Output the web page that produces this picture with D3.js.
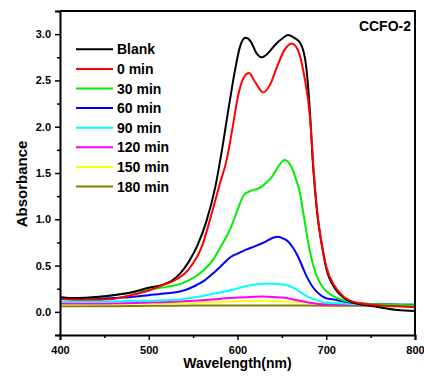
<!DOCTYPE html>
<html>
<head>
<meta charset="utf-8">
<script src="https://cdn.jsdelivr.net/npm/d3@7"></script>
<style>
    body { margin: 0; background: #fff; }
    svg { display: block; font-family: 'Liberation Sans', Arial, sans-serif; font-weight: bold; }
</style>
</head>
<body>
<svg width="424" height="379"></svg>
<script>
// UV-vis spectra, CCFO-2 degradation series
const seriesNames = ['Blank', '0 min', '30 min', '60 min', '90 min', '120 min', '150 min', '180 min'];
const seriesColors = ['#000000', '#ff0000', '#00ee00', '#0000ff', '#00ffff', '#ff00ff', '#ffff00', '#808000'];

// [wavelength (nm), absorbance] pairs
const blank = [
    [400, 0.15], [420, 0.15], [440, 0.16], [460, 0.18], [480, 0.21], [500, 0.26], [515, 0.29],
    [525, 0.33], [535, 0.41], [545, 0.54], [555, 0.72], [565, 0.98], [575, 1.35], [582, 1.72],
    [590, 2.2], [597, 2.6], [603, 2.87], [609, 2.96], [615, 2.92], [621, 2.8], [627, 2.75],
    [634, 2.79], [642, 2.88], [650, 2.95], [657, 2.99], [664, 2.96], [671, 2.9], [677, 2.68],
    [681, 2.25], [685, 1.6], [690, 1.05], [695, 0.72], [700, 0.47], [710, 0.25], [720, 0.15],
    [730, 0.1], [740, 0.08], [760, 0.05], [780, 0.02], [800, 0.01]
];
const min0 = [
    [400, 0.14], [430, 0.13], [460, 0.14], [480, 0.18], [500, 0.23], [516, 0.29], [531, 0.35],
    [545, 0.46], [560, 0.71], [572, 1.1], [580, 1.38], [588, 1.65], [595, 2.02], [601, 2.35],
    [607, 2.53], [613, 2.58], [620, 2.48], [629, 2.37], [637, 2.46], [645, 2.66], [653, 2.83],
    [661, 2.9], [668, 2.83], [675, 2.56], [682, 2.07], [686, 1.5], [690, 1.07], [695, 0.73],
    [700, 0.49], [710, 0.27], [720, 0.16], [730, 0.11], [740, 0.09], [760, 0.07], [780, 0.06],
    [800, 0.05]
];
const min30 = [
    [400, 0.14], [430, 0.15], [460, 0.18], [480, 0.21], [500, 0.24], [520, 0.27], [535, 0.3],
    [545, 0.34], [554, 0.39], [563, 0.46], [573, 0.57], [582, 0.72], [592, 0.9], [600, 1.1],
    [607, 1.26], [613, 1.3], [620, 1.32], [627, 1.35], [633, 1.4], [639, 1.46], [646, 1.57],
    [653, 1.64], [660, 1.58], [665, 1.46], [670, 1.3], [675, 1.02], [680, 0.73], [688, 0.42],
    [695, 0.28], [703, 0.2], [712, 0.15], [721, 0.12], [740, 0.09], [770, 0.08], [800, 0.07]
];
const min60 = [
    [400, 0.16], [410, 0.15], [420, 0.14], [440, 0.14], [460, 0.15], [480, 0.16], [500, 0.18],
    [520, 0.2], [535, 0.22], [545, 0.25], [554, 0.29], [563, 0.34], [573, 0.42], [582, 0.5],
    [592, 0.59], [600, 0.63], [609, 0.67], [620, 0.71], [630, 0.75], [640, 0.8], [646, 0.81],
    [652, 0.79], [657, 0.76], [662, 0.7], [668, 0.6], [673, 0.49], [678, 0.38], [684, 0.28],
    [690, 0.21], [699, 0.15], [710, 0.13], [721, 0.11], [740, 0.09], [770, 0.08], [800, 0.07]
];
const min90 = [
    [400, 0.11], [450, 0.11], [500, 0.12], [530, 0.13], [554, 0.16], [575, 0.2], [591, 0.23],
    [610, 0.28], [625, 0.3], [635, 0.305], [645, 0.3], [655, 0.29], [665, 0.25], [673, 0.2],
    [680, 0.16], [688, 0.13], [700, 0.1], [720, 0.09], [760, 0.08], [800, 0.08]
];
const min120 = [
    [400, 0.09], [450, 0.09], [500, 0.1], [550, 0.12], [580, 0.14], [600, 0.155], [615, 0.16],
    [628, 0.165], [640, 0.16], [655, 0.15], [665, 0.13], [680, 0.1], [700, 0.08], [750, 0.08],
    [800, 0.08]
];
const min150 = [
    [400, 0.08], [450, 0.085], [500, 0.09], [550, 0.1], [600, 0.115], [630, 0.12], [660, 0.11],
    [700, 0.09], [750, 0.085], [800, 0.08]
];
const min180 = [
    [400, 0.06], [450, 0.06], [500, 0.065], [550, 0.068], [600, 0.07], [650, 0.07], [700, 0.066],
    [750, 0.065], [800, 0.065]
];
const seriesData = [blank, min0, min30, min60, min90, min120, min150, min180];

const xTicks = [400, 500, 600, 700, 800];
const yTicks = [0.0, 0.5, 1.0, 1.5, 2.0, 2.5, 3.0];

const margin = { top: 11, right: 9, bottom: 44, left: 60 };
const width = 424;
const height = 379;

const svg = d3.select('svg');

const x = d3.scaleLinear()
    .domain([400, 800])
    .range([margin.left, width - margin.right]);

const y = d3.scaleLinear()
    .domain([-0.25, 3.25])
    .range([height - margin.bottom, margin.top]);

svg.append('clipPath')
    .attr('id', 'plot-clip')
    .append('rect')
    .attr('x', margin.left)
    .attr('y', margin.top)
    .attr('width', width - margin.left - margin.right)
    .attr('height', height - margin.top - margin.bottom);

const line = d3.line()
    .x(d => x(d[0]))
    .y(d => y(d[1]))
    .curve(d3.curveMonotoneX);

// draw the faint curves first so the strong ones sit on top
const order = [7, 6, 5, 4, 3, 2, 0, 1];
svg.append('g')
    .attr('clip-path', 'url(#plot-clip)')
    .selectAll('path')
    .data(order)
    .join('path')
    .attr('d', i => line(seriesData[i]))
    .attr('fill', 'none')
    .attr('stroke', i => seriesColors[i])
    .attr('stroke-width', 2)
    .attr('stroke-linejoin', 'round');

// axes
const xAxis = svg.append('g')
    .attr('transform', `translate(0,${height - margin.bottom})`)
    .call(d3.axisBottom(x).tickValues(xTicks).tickSize(5).tickPadding(6).tickFormat(d3.format('d')));

svg.append('g')
    .attr('transform', `translate(0,${height - margin.bottom})`)
    .call(d3.axisBottom(x).tickValues([450, 550, 650, 750]).tickSize(3).tickFormat(''))
    .call(g => g.select('.domain').remove());

const yAxis = svg.append('g')
    .attr('transform', `translate(${margin.left},0)`)
    .call(d3.axisLeft(y).tickValues(yTicks).tickSize(5).tickPadding(4).tickFormat(d3.format('.1f')));

svg.append('g')
    .attr('transform', `translate(${margin.left},0)`)
    .call(d3.axisLeft(y).tickValues([-0.25, 0.25, 0.75, 1.25, 1.75, 2.25, 2.75, 3.25]).tickSize(3).tickFormat(''))
    .call(g => g.select('.domain').remove());

svg.selectAll('.tick line')
    .attr('stroke', '#000')
    .attr('stroke-width', 1.5);

[xAxis, yAxis].forEach(g => {
    g.select('.domain')
        .attr('stroke', '#000')
        .attr('stroke-width', 2);
    g.selectAll('text')
        .attr('fill', '#000')
        .style('font-size', '11px')
        .style('font-weight', 'bold')
        .style('font-family', "'Liberation Sans', Arial, sans-serif");
});

// top and right frame lines
svg.append('path')
    .attr('d', `M${margin.left},${margin.top}H${width - margin.right}V${height - margin.bottom}`)
    .attr('fill', 'none')
    .attr('stroke', '#000')
    .attr('stroke-width', 2);

// axis titles
svg.append('text')
    .attr('x', x(600))
    .attr('y', 368)
    .attr('text-anchor', 'middle')
    .style('font-size', '14px')
    .text('Wavelength(nm)');

svg.append('text')
    .attr('transform', 'translate(27,184) rotate(-90)')
    .attr('text-anchor', 'middle')
    .style('font-size', '15px')
    .text('Absorbance');

svg.append('text')
    .attr('x', 411)
    .attr('y', 30.5)
    .attr('text-anchor', 'end')
    .style('font-size', '14px')
    .text('CCFO-2');

// legend
const legend = svg.append('g')
    .selectAll('g')
    .data(seriesNames)
    .join('g')
    .attr('transform', (d, i) => `translate(76,${49.3 + i * 19.6})`);

legend.append('line')
    .attr('x1', 0)
    .attr('x2', 37)
    .attr('stroke', (d, i) => seriesColors[i])
    .attr('stroke-width', 2);

legend.append('text')
    .attr('x', 41)
    .attr('dy', '0.36em')
    .style('font-size', '14px')
    .text(d => d);
</script>
</body>
</html>
